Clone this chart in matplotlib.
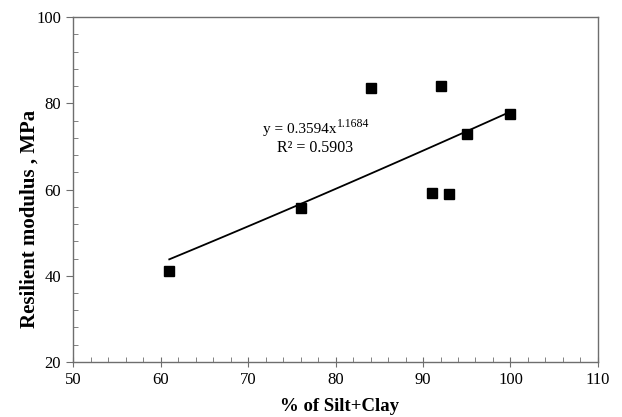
import matplotlib
matplotlib.use("Agg")
import matplotlib.pyplot as plt
from matplotlib.ticker import MultipleLocator
import numpy as np

plt.rcParams["font.family"] = ["Liberation Serif", "DejaVu Serif"]

# data
silt_clay = [61, 76, 84, 92, 91, 93, 95, 100]
modulus = [41.2, 55.8, 83.5, 83.9, 59.2, 58.9, 72.9, 77.6]

# power trend line reported on the chart
coef_a = 0.3594
coef_b = 1.1684
fit_x = np.linspace(min(silt_clay), max(silt_clay), 100)
fit_y = coef_a * fit_x ** coef_b

fig = plt.figure(figsize=(6.22, 4.17), dpi=100)
ax = fig.add_axes([0.1174, 0.1319, 0.8440, 0.8273])

ax.plot(fit_x, fit_y, color="black", lw=1.3, zorder=2)
ax.plot(silt_clay, modulus, ls="none", marker="s", ms=7, color="black", zorder=3)

# equation label: base text + superscript exponent
ax.text(80.1, 73.8, "y = 0.3594x", ha="right", va="center", fontsize=11)
ax.annotate("1.1684", xy=(80.1, 73.8), xytext=(0.3, 4.5), textcoords="offset points",
            ha="left", va="center", fontsize=8.5)
ax.text(77.7, 69.6, "R² = 0.5903", ha="center", va="center", fontsize=11.5)

ax.set_xlim(50, 110)
ax.set_ylim(20, 100)
ax.xaxis.set_major_locator(MultipleLocator(10))
ax.xaxis.set_minor_locator(MultipleLocator(2))
ax.yaxis.set_major_locator(MultipleLocator(20))
ax.yaxis.set_minor_locator(MultipleLocator(4))

axis_col = "#6e6e6e"
for s in ax.spines.values():
    s.set_color(axis_col)
    s.set_linewidth(1.0)
ax.tick_params(axis="x", which="major", direction="inout", length=7, color=axis_col, labelsize=12, pad=4)
ax.tick_params(axis="y", which="major", direction="out", length=5, color=axis_col, labelsize=12)
ax.tick_params(which="minor", direction="in", length=3.5, color=axis_col)

ax.set_xlabel("% of Silt+Clay", fontsize=13.5, fontweight="bold")
ax.set_ylabel("Resilient modulus , MPa", fontsize=15, fontweight="bold")
ax.xaxis.set_label_coords(0.508, -0.128)
ax.yaxis.set_label_coords(-0.082, 0.414)
ax.xaxis.label.set_va("center")
ax.yaxis.label.set_va("center")

fig.savefig("out.png", dpi=100)
